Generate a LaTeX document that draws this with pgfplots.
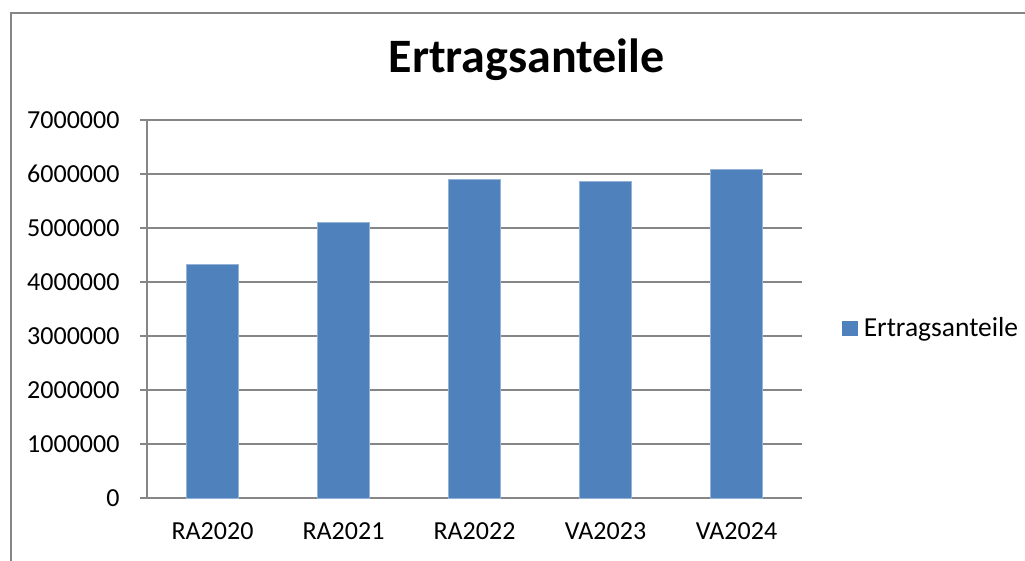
\documentclass[border=0pt]{standalone}
\usepackage{pgfplots}
\pgfplotsset{compat=1.18}
\usepackage{fontspec}
\setmainfont{Carlito}
\definecolor{barblue}{HTML}{4F81BD}
\definecolor{gridgray}{HTML}{868686}
\begin{document}
\begin{tikzpicture}
\useasboundingbox (-147pt,-62pt) rectangle (878pt,498pt);
\draw[gridgray, line width=1.5pt] (-136pt,-120pt) -- (-136pt,485pt) -- (900pt,485pt);
\begin{axis}[
  at={(0pt,0pt)}, anchor=south west,
  scale only axis, width=655pt, height=378pt,
  ybar, bar width=0.4,
  xmin=-0.5, xmax=4.5, ymin=0, ymax=7000000,
  xtick={0,1,2,3,4},
  xticklabels={RA2020,RA2021,RA2022,VA2023,VA2024},
  extra x ticks={-0.5,0.5,1.5,2.5,3.5,4.5},
  extra x tick labels={},
  extra x tick style={major tick length=8pt, tick style={gridgray, line width=1.5pt}, grid=none},
  ytick={0,1000000,...,7000000},
  scaled y ticks=false,
  /pgf/number format/.cd, fixed, 1000 sep={}, assume math mode=true,
  /pgfplots/.cd,
  axis x line*=bottom, axis y line*=left,
  axis line style={gridgray, line width=1.5pt, -},
  x axis line style={-}, y axis line style={-},
  ymajorgrids, grid style={gridgray, line width=1.8pt},
  major tick length=7pt,
  tick style={gridgray, line width=1.5pt},
  xtick style={draw=none},
  ytick align=outside, xtick align=outside,
  tick label style={font=\fontsize{26}{30}\selectfont, text=black},
  yticklabel style={xshift=-17pt},
  xticklabel style={yshift=-14pt},
  legend style={draw=none, fill=none, font=\fontsize{27.5}{30}\selectfont,
    at={(axis description cs:1.061,0.45)}, anchor=west, inner sep=0pt},
  legend image code/.code={\fill[barblue] (0pt,-7pt) rectangle (15pt,7pt);},
  legend cell align=left,
  legend style={/tikz/every even column/.append style={column sep=0pt}},
  clip=false,
]
\addplot[fill=barblue, draw=barblue!60!white, line width=0.6pt] coordinates {
  (0,4330000) (1,5100000) (2,5900000) (3,5860000) (4,6090000)};
\addlegendentry{\hspace{4pt}Ertragsanteile}
\end{axis}
\node[anchor=base, inner sep=0pt, font=\fontsize{48}{52}\selectfont\bfseries] at (379.5pt,425.3pt) {Ertragsanteile};
\end{tikzpicture}
\end{document}
